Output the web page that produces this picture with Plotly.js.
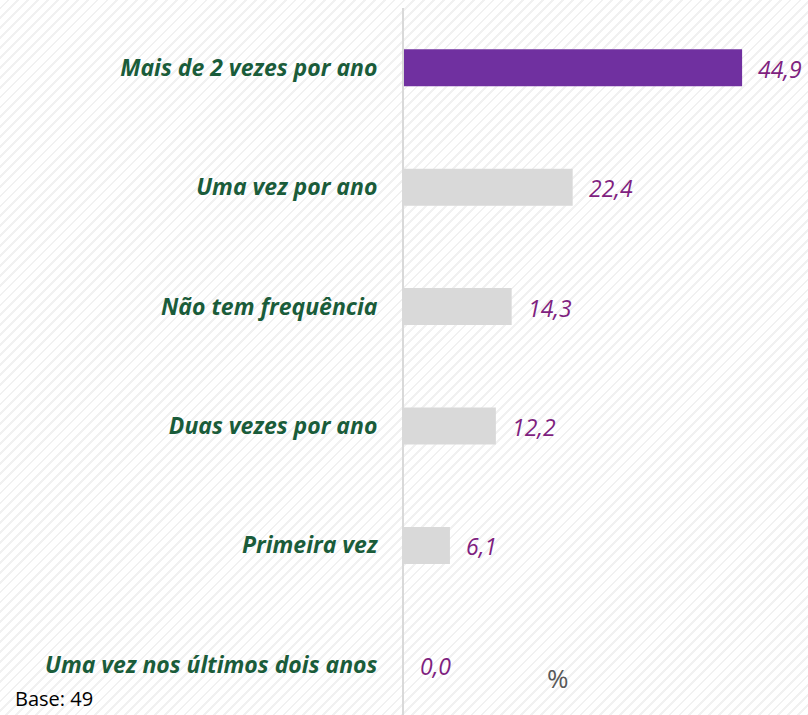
<!DOCTYPE html>
<html>
<head>
<meta charset="utf-8">
<script src="https://cdn.plot.ly/plotly-3.0.1.min.js"></script>
<style>
  html, body { margin: 0; padding: 0; }
  body {
    width: 808px; height: 715px; overflow: hidden;
    background: repeating-linear-gradient(135deg, #ffffff 0px, #ffffff 5px, #f1f1f1 5px, #f1f1f1 7px);
  }
  #chart { width: 808px; height: 715px; }
</style>
</head>
<body>
<div id="chart"></div>
<script>
const categories = [
  "Mais de 2 vezes por ano",
  "Uma vez por ano",
  "Não tem frequência",
  "Duas vezes por ano",
  "Primeira vez",
  "Uma vez nos últimos dois anos"
];
const values = [44.9, 22.4, 14.3, 12.2, 6.1, 0.0];
const valueLabels = ["44,9", "22,4", "14,3", "12,2", "6,1", "0,0"];
const barColors = ["#7030a0", "#d9d9d9", "#d9d9d9", "#d9d9d9", "#d9d9d9", "#d9d9d9"];
const baseNote = "Base: 49";
const unitLabel = "%";

const trace = {
  type: "bar",
  orientation: "h",
  x: values,
  y: categories,
  width: 0.31,
  marker: { color: barColors },
  hoverinfo: "skip",
  cliponaxis: false
};

const annotations = values.map((v, i) => ({
  x: v, y: categories[i], xref: "x", yref: "y",
  text: valueLabels[i],
  showarrow: false,
  xanchor: "left",
  xshift: 14,
  yshift: -1,
  font: { family: "Open Sans, sans-serif", size: 23, color: "#7f1f7f", style: "italic" }
}));

annotations.push({
  x: 0, y: 0, xref: "paper", yref: "paper", xanchor: "left", yanchor: "bottom",
  xshift: -391, yshift: 1,
  text: baseNote, showarrow: false,
  font: { family: "Open Sans, sans-serif", size: 20, color: "#000000" }
});
annotations.push({
  x: 0.381, y: 0.052, xref: "paper", yref: "paper", xanchor: "center", yanchor: "middle",
  text: unitLabel, showarrow: false,
  font: { family: "Open Sans, sans-serif", size: 26, color: "#595959" }
});

const layout = {
  width: 808, height: 715,
  margin: { l: 404, r: 0, t: 8, b: 0 },
  paper_bgcolor: "rgba(0,0,0,0)",
  plot_bgcolor: "rgba(0,0,0,0)",
  showlegend: false,
  xaxis: {
    range: [0, 53.65],
    showgrid: false, zeroline: false, showticklabels: false, showline: false, fixedrange: true
  },
  yaxis: {
    type: "category",
    range: [5.42, -0.5],
    showgrid: false, zeroline: false,
    showline: true, linecolor: "#d9d9d9", linewidth: 2,
    ticks: "outside", ticklen: 20, tickcolor: "rgba(0,0,0,0)",
    tickfont: { family: "Open Sans, sans-serif", size: 23, color: "#1a5c3a", weight: "bold", style: "italic" },
    fixedrange: true
  },
  annotations: annotations
};

Plotly.newPlot("chart", [trace], layout, { displayModeBar: false, staticPlot: true });
</script>
</body>
</html>
